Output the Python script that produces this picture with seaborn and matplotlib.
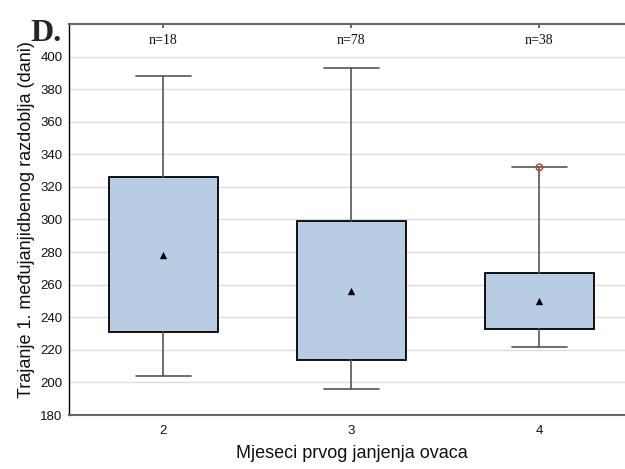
import matplotlib
matplotlib.use("Agg")
import matplotlib.pyplot as plt
import seaborn as sns

# Values (days)
months = ["2", "3", "4"]
counts = [18, 78, 38]
whisker_low = [204, 196, 222]
box_low = [231, 214, 233]
box_high = [326, 299, 267]
whisker_high = [388, 393, 332]
means = [278, 256, 250]
outlier_month = ["4"]
outlier_value = [332]

sns.set_theme(style="whitegrid")
plt.rcParams["font.family"] = ["Liberation Sans", "DejaVu Sans"]

fig = plt.figure(figsize=(6.25, 4.69), dpi=100)
ax = fig.add_axes([0.111, 0.115, 0.9024, 0.834])

positions = list(range(len(months)))
stats = []
for i, m in enumerate(months):
    stats.append(dict(label=m, whislo=whisker_low[i], q1=box_low[i], med=means[i],
                      q3=box_high[i], whishi=whisker_high[i], fliers=[]))

ax.bxp(stats, positions=positions, widths=0.58, capwidths=0.29, patch_artist=True,
       boxprops=dict(facecolor="#B8CCE4", edgecolor="black", linewidth=1.3),
       whiskerprops=dict(color="#555555", linewidth=1.2),
       capprops=dict(color="#555555", linewidth=1.2),
       medianprops=dict(visible=False), zorder=3)

# mean markers
sns.scatterplot(x=positions, y=means, marker="^", color="black", s=28,
                linewidth=0, ax=ax, zorder=5)

# outlier
out_x = [months.index(m) for m in outlier_month]
ax.scatter(out_x, outlier_value, s=22, facecolors="none", edgecolors="#C0392B",
           linewidths=1.0, zorder=6)

# sample sizes
for i, n in enumerate(counts):
    ax.text(positions[i], 410, f"n={n}", ha="center", va="center",
            family=["Liberation Serif", "DejaVu Serif"], fontsize=10, color="#111111")

fig.text(0.048, 0.912, "D.", family=["Liberation Serif", "DejaVu Serif"],
         fontweight="bold", fontsize=23, va="baseline", ha="left")

ax.set_xlim(-0.5, 2.5)
ax.set_ylim(180, 420)
ax.set_yticks(range(180, 401, 20))
ax.set_xticks(positions)
ax.set_xticklabels(months)

ax.grid(axis="y", color="#DDDDDD", linewidth=1)
ax.grid(axis="x", visible=False)
ax.set_axisbelow(True)

ax.tick_params(axis="x", direction="in", length=3, top=True, color="#555555",
               labelsize=9.5, pad=7, labelcolor="#111111")
ax.tick_params(axis="y", length=0, labelsize=9.5, pad=5, labelcolor="#111111")

ax.spines["left"].set_color("black")
ax.spines["left"].set_linewidth(1.0)
for s in ["top", "bottom"]:
    ax.spines[s].set_color("#666666")
    ax.spines[s].set_linewidth(1.5)
ax.spines["right"].set_visible(False)

ax.set_ylabel("Trajanje 1. međujanjidbenog razdoblja (dani)",
              fontsize=13, color="#111111", labelpad=4)
ax.set_xlabel("Mjeseci prvog janjenja ovaca", fontsize=13, color="#111111", labelpad=6)

fig.savefig("out.png", dpi=100)
